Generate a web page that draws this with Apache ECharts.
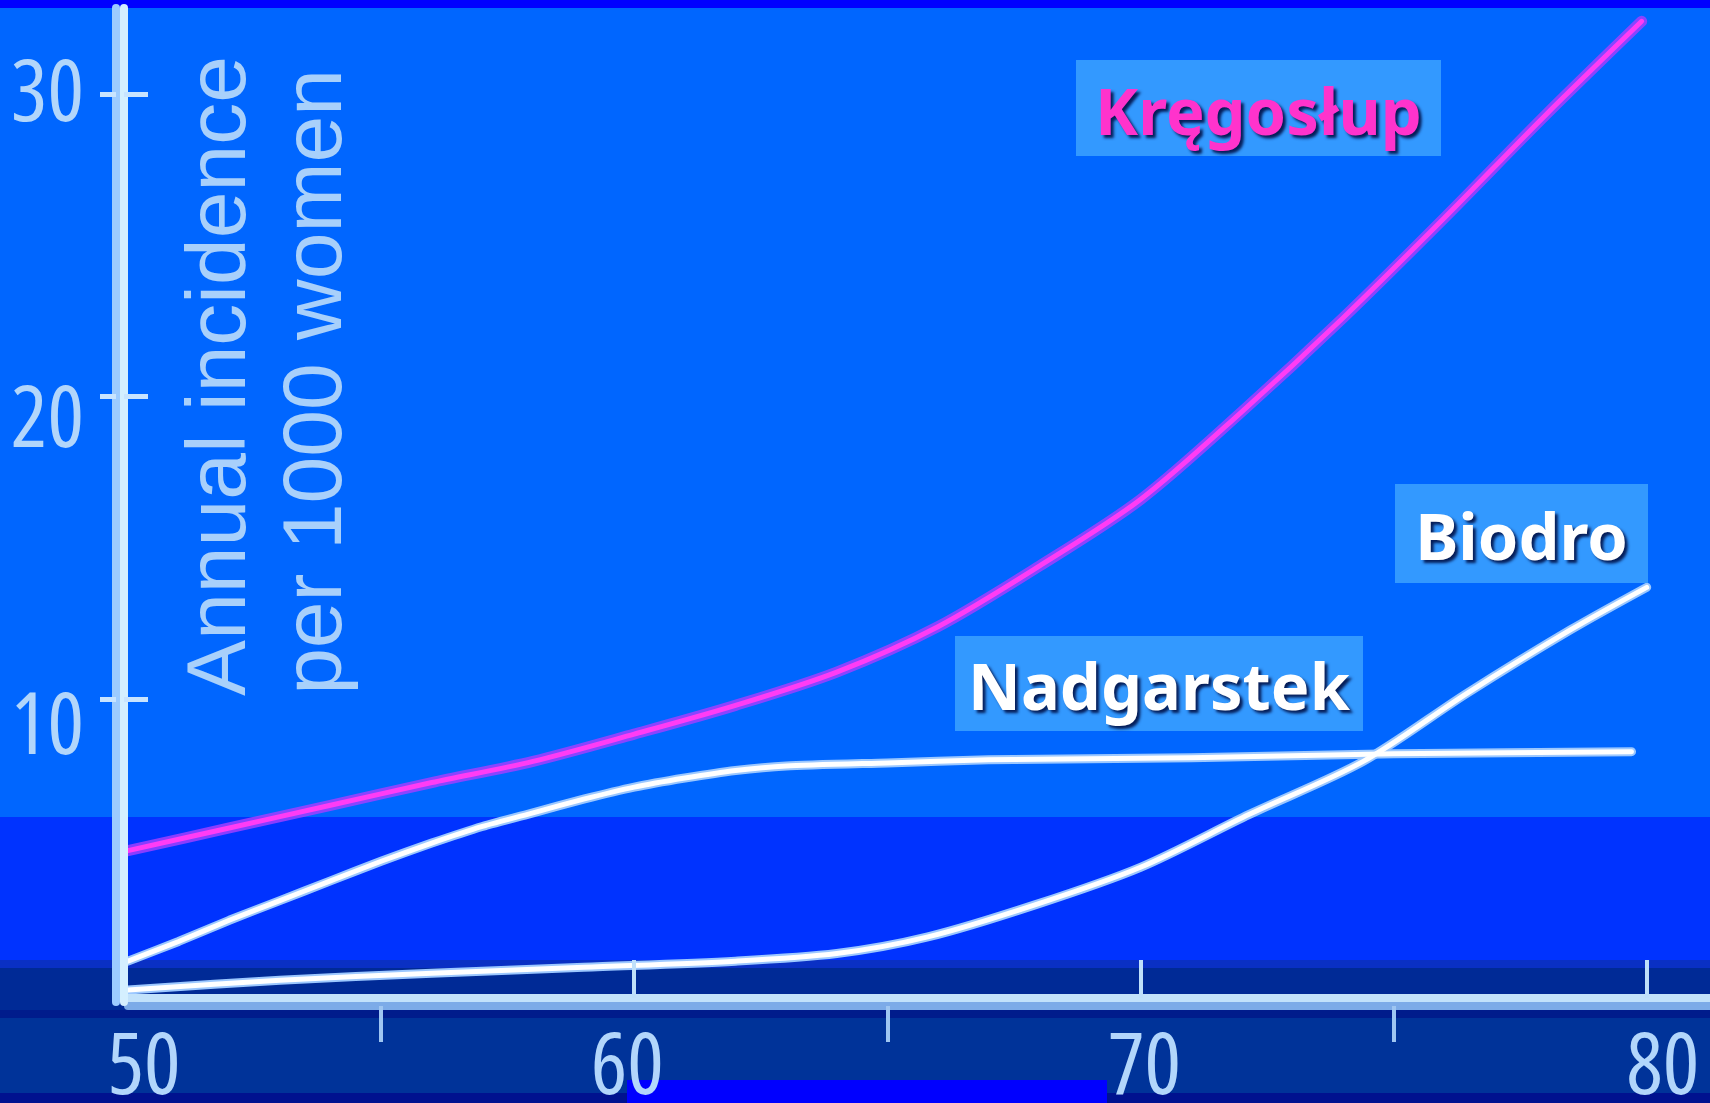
<!DOCTYPE html>
<html><head><meta charset="utf-8">
<script src="https://cdn.jsdelivr.net/npm/echarts@6/dist/echarts.min.js"></script>
<style>html,body{margin:0;padding:0;background:#0066ff;overflow:hidden}#chart{width:1710px;height:1103px;}</style>
</head><body><div id="chart"></div>
<script>
// ---- data ----
const ageLabels = [50, 60, 70, 80];
const ageMajorTicks = [60, 70, 80];
const ageMinorTicks = [55, 65, 75];
const incidenceTicks = [10, 20, 30];
const yTitleLines = ['Annual incidence', 'per 1000 women'];
const seriesNames = ['Kręgosłup', 'Nadgarstek', 'Biodro'];

const spineAge = [50, 52, 54, 56, 58, 60, 62, 64, 66, 68, 70, 72, 74, 76, 78, 79.9];
const spineVal = [5.0, 5.75, 6.5, 7.25, 7.95, 8.85, 9.8, 10.9, 12.4, 14.4, 16.6, 19.5, 22.6, 25.9, 29.3, 32.4];

const wristAge = [50, 51, 52, 53, 54, 55, 56, 57, 58, 59, 60, 61, 62, 63, 65, 67, 70, 72, 75, 79.7];
const wristVal = [1.35, 2.0, 2.7, 3.35, 4.0, 4.65, 5.25, 5.8, 6.25, 6.7, 7.1, 7.4, 7.65, 7.8, 7.9, 8.0, 8.05, 8.1, 8.2, 8.27];

const hipAge = [50, 53, 56, 59, 62, 64, 65.8, 67.9, 70, 72.15, 74.4, 76.45, 78.5, 80];
const hipVal = [0.4, 0.72, 0.95, 1.15, 1.35, 1.6, 2.15, 3.2, 4.45, 6.2, 7.95, 10.2, 12.3, 13.7];

// ---- chart ----
const chart = echarts.init(document.getElementById('chart'), null, {renderer: 'canvas'});
const pairs = (xs, ys) => xs.map((x, i) => [x, ys[i]]);
const tickFont = {color: '#b2d6fb', fontSize: 86, fontWeight: 'condensed', fontFamily: '"Open Sans", sans-serif'};

// per-label nudges (label placement in the scanned slide is slightly irregular)
const xNudge = {50: 32, 60: -14, 70: 8, 80: 32};
const yNudge = {10: 60, 20: 52, 30: 6};
const xRich = {}, yRich = {};
ageLabels.forEach(v => { const n = xNudge[v]; xRich['x' + v] = Object.assign({padding: n >= 0 ? [0, 0, 0, n] : [0, -n, 0, 0]}, tickFont); });
incidenceTicks.forEach(v => { yRich['y' + v] = Object.assign({padding: [yNudge[v], 0, 0, 0]}, tickFont); });

function line(name, xs, ys, color, width, z, opacity, smooth) {
  return {
    type: 'line', name: name, data: pairs(xs, ys), showSymbol: false, symbol: 'none',
    smooth: smooth, z: z, silent: true, animation: false,
    lineStyle: {color: color, width: width, opacity: opacity, cap: 'round', join: 'round'}
  };
}

function labelBox(text, x, y, w, h, color) {
  return [
    {type: 'rect', z: 20, shape: {x: x, y: y, width: w, height: h}, style: {fill: '#3399ff'}},
    {type: 'text', z: 21, x: x + w / 2, y: y + h / 2 + 8,
     style: {text: text, fill: color, font: 'bold 65px "Noto Sans", sans-serif',
       textAlign: 'center', textVerticalAlign: 'middle', align: 'center', verticalAlign: 'middle',
       textShadowColor: 'rgba(0,16,70,0.9)', textShadowBlur: 3, textShadowOffsetX: 3, textShadowOffsetY: 3}}
  ];
}

const bg = [
  {type: 'rect', z: -10, shape: {x: 0, y: 0, width: 1710, height: 8}, style: {fill: '#0000ff'}},
  {type: 'rect', z: -10, shape: {x: 0, y: 817, width: 1710, height: 143}, style: {fill: '#0033ff'}},
  {type: 'rect', z: -10, shape: {x: 0, y: 960, width: 1710, height: 8}, style: {fill: '#0a30c4'}},
  {type: 'rect', z: -10, shape: {x: 0, y: 968, width: 1710, height: 42}, style: {fill: '#002a96'}},
  {type: 'rect', z: -10, shape: {x: 0, y: 1010, width: 1710, height: 8}, style: {fill: '#001c8c'}},
  {type: 'rect', z: -10, shape: {x: 0, y: 1018, width: 1710, height: 75}, style: {fill: '#003399'}},
  {type: 'rect', z: -10, shape: {x: 0, y: 1093, width: 1710, height: 10}, style: {fill: '#00128f'}},
  {type: 'rect', z: -9, shape: {x: 627, y: 1080, width: 480, height: 23}, style: {fill: '#0000ff'}}
];

const titleFont = 'normal 84px "Liberation Sans", Arial, sans-serif';
const yTitles = [
  {type: 'text', z: 5, x: 222, y: 376, rotation: Math.PI / 2,
   style: {text: yTitleLines[0], fill: '#a8d0fb', font: titleFont, textAlign: 'center', textVerticalAlign: 'middle', align: 'center', verticalAlign: 'middle'}},
  {type: 'text', z: 5, x: 318, y: 382, rotation: Math.PI / 2,
   style: {text: yTitleLines[1], fill: '#a8d0fb', font: titleFont, textAlign: 'center', textVerticalAlign: 'middle', align: 'center', verticalAlign: 'middle'}}
];

const option = {
  backgroundColor: '#0066ff',
  animation: false,
  grid: {left: 128, right: 0, top: 8, bottom: 101, containLabel: false, outerBoundsMode: 'none'},
  xAxis: [
    {type: 'value', min: 50, max: 81.25, interval: 10, position: 'bottom', offset: -4, z: 8,
     axisLine: {show: true, onZero: false, lineStyle: {color: '#c2e2fb', width: 8}},
     axisTick: {show: true, inside: true, length: 38, customValues: ageMajorTicks, lineStyle: {color: '#bfe0fa', width: 4}},
     axisLabel: Object.assign({show: true, customValues: ageLabels, margin: 28, rich: xRich,
       formatter: v => '{x' + v + '|' + v + '}'}, tickFont),
     splitLine: {show: false}},
    {type: 'value', min: 50, max: 81.25, interval: 10, position: 'bottom', offset: 4, z: 8,
     axisLine: {show: true, onZero: false, lineStyle: {color: '#7cabe8', width: 8}},
     axisTick: {show: true, inside: false, length: 36, customValues: ageMinorTicks, lineStyle: {color: '#9ec6f2', width: 4}},
     axisLabel: {show: false}, splitLine: {show: false}}
  ],
  yAxis: [
    {type: 'value', min: 0, max: 32.84, interval: 10, position: 'left', offset: 12, z: 9,
     axisLine: {show: true, onZero: false, lineStyle: {color: '#9ccbff', width: 8}},
     axisTick: {show: true, inside: false, length: 16, customValues: incidenceTicks, lineStyle: {color: '#c8e4ff', width: 5}},
     axisLabel: Object.assign({show: true, customValues: incidenceTicks, margin: 32, rich: yRich,
       formatter: v => '{y' + v + '|' + v + '}'}, tickFont),
     splitLine: {show: false}},
    {type: 'value', min: 0, max: 32.84, interval: 10, position: 'left', offset: 4, z: 9,
     axisLine: {show: true, onZero: false, lineStyle: {color: '#d4efff', width: 8}},
     axisTick: {show: true, inside: true, length: 24, customValues: incidenceTicks, lineStyle: {color: '#c8e4ff', width: 5}},
     axisLabel: {show: false}, splitLine: {show: false}}
  ],
  series: [
    line(seriesNames[2], hipAge, hipVal, '#9cc8ff', 9, 3, 1, 0.3),
    line(seriesNames[2], hipAge, hipVal, '#ffffff', 5, 4, 1, 0.3),
    line(seriesNames[1], wristAge, wristVal, '#9cc8ff', 9, 3, 1, 0.2),
    line(seriesNames[1], wristAge, wristVal, '#ffffff', 5, 4, 1, 0.2),
    line(seriesNames[0], spineAge, spineVal, '#a040ff', 11, 5, 0.85, 0.3),
    line(seriesNames[0], spineAge, spineVal, '#ff3cf5', 5, 6, 1, 0.3)
  ],
  graphic: {elements: [].concat(
    bg, yTitles,
    labelBox(seriesNames[0], 1076, 60, 365, 96, '#ff33cc'),
    labelBox(seriesNames[1], 955, 636, 408, 95, '#ffffff'),
    labelBox(seriesNames[2], 1395, 484, 253, 99, '#ffffff')
  )}
};
chart.setOption(option);
</script>
</body></html>
